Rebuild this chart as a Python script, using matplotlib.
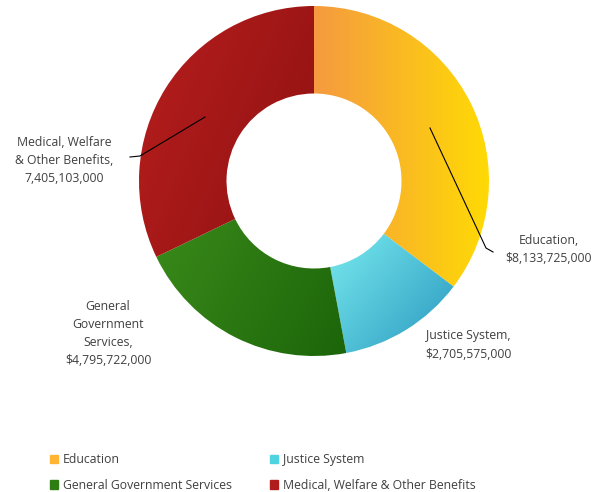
import numpy as np
import matplotlib
matplotlib.use('Agg')
import matplotlib.pyplot as plt
from matplotlib.colors import LinearSegmentedColormap
from matplotlib.patches import Patch

# Data
categories = ['Education', 'Justice System', 'General Government Services',
              'Medical, Welfare & Other Benefits']
values = [8133725000, 2705575000, 4795722000, 7405103000]
label_text = ['Education,\n$8,133,725,000', 'Justice System,\n$2,705,575,000',
              'General\nGovernment\nServices,\n$4,795,722,000',
              'Medical, Welfare\n& Other Benefits,\n7,405,103,000']
# gradient start/end colours and direction (degrees) per slice
grad_colors = [('#F59A40', '#FFDA05'), ('#78EAEE', '#2A98C0'),
               ('#3A8A1A', '#1C650A'), ('#B81E1E', '#8E1111')]
grad_angle = [0, -40, -20, -30]
legend_colors = ['#FFB533', '#4FD3E0', '#2E7D12', '#B01B1B']

W, H = 603, 492
fig = plt.figure(figsize=(W / 100, H / 100), dpi=100)
ax = fig.add_axes([0, 0, 1, 1])

cx, cy, R = 314, H - 181, 175
wedges, _ = ax.pie(values, center=(cx, cy), radius=R, startangle=90,
                   counterclock=False, wedgeprops=dict(width=R * 0.5, linewidth=0),
                   frame=True)
ax.set_xlim(0, W)
ax.set_ylim(0, H)
ax.set_aspect('equal')
ax.axis('off')

# gradient fills clipped to the wedges
xx, yy = np.meshgrid(np.linspace(-1, 1, 200), np.linspace(-1, 1, 200))
for w, (c0, c1), ang in zip(wedges, grad_colors, grad_angle):
    w.set_facecolor('none')
    ext = w.get_path().get_extents()
    th = np.deg2rad(ang)
    t = xx * np.cos(th) + yy * np.sin(th)
    t = (t - t.min()) / (t.max() - t.min())
    cmap = LinearSegmentedColormap.from_list('g', [c0, c1])
    im = ax.imshow(t, cmap=cmap, origin='lower',
                   extent=(ext.x0, ext.x1, ext.y0, ext.y1),
                   interpolation='bilinear', zorder=1)
    im.set_clip_path(w)
ax.set_xlim(0, W)
ax.set_ylim(0, H)

# data labels
txt = dict(fontsize=8.8, color='#404040', family='Open Sans', linespacing=1.5)
ax.text(549, H - 249, label_text[0], ha='center', va='center', **txt)
ax.text(468, H - 345, label_text[1], ha='center', va='center', **txt)
ax.text(108, H - 334, label_text[2], ha='center', va='center', **txt)
ax.text(64, H - 161, label_text[3], ha='center', va='center', **txt)

# leader lines
ax.plot([430, 486, 493], [H - 128, H - 248, H - 252], color='black', lw=0.8, zorder=3)
ax.plot([205, 140, 130], [H - 117, H - 156, H - 157], color='black', lw=0.8, zorder=3)

# legend
handles = [Patch(color=c, label=l) for c, l in zip(legend_colors, categories)]
order = [0, 2, 1, 3]
leg = fig.legend([handles[i] for i in order], [categories[i] for i in order],
                 ncol=2, loc='lower left', bbox_to_anchor=(0.065, -0.022),
                 frameon=False, handlelength=0.65, handleheight=0.65,
                 handletextpad=0.4, columnspacing=3.1, labelspacing=1.05,
                 prop=dict(family='Open Sans', size=8.8))
for t in leg.get_texts():
    t.set_color('#404040')

fig.savefig('out.png', dpi=100)
